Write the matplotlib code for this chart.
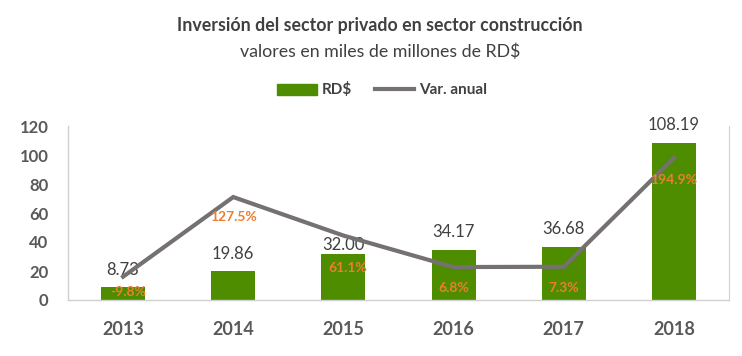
import numpy as np
import matplotlib
matplotlib.use("Agg")
import matplotlib.pyplot as plt
from matplotlib.patches import Patch
from matplotlib.lines import Line2D

plt.rcParams['font.family'] = ['Lato', 'DejaVu Sans']

# datos
anios = ['2013', '2014', '2015', '2016', '2017', '2018']
inversion = [8.73, 19.86, 32.00, 34.17, 36.68, 108.19]
var_anual = [-9.8, 127.5, 61.1, 6.8, 7.3, 194.9]
etiquetas_inv = ['8.73', '19.86', '32.00', '34.17', '36.68', '108.19']
etiquetas_var = ['-9.8%', '127.5%', '61.1%', '6.8%', '7.3%', '194.9%']

verde = '#4E8C00'
gris = '#767171'
naranja = '#ED7D31'
texto = '#595959'

W, H = 742, 356
fig = plt.figure(figsize=(W / 100, H / 100), dpi=100)
ax = fig.add_axes([68 / W, 56 / H, 661 / W, 174 / H])

x = np.arange(len(anios))
ax.bar(x, inversion, width=0.4, color=verde, zorder=2)
ax.set_xlim(-0.5, len(anios) - 0.5)
ax.set_ylim(0, 120)
ax.set_yticks(range(0, 121, 20))
ax.set_xticks(x)
ax.set_xticklabels(anios)
ax.tick_params(axis='both', length=0, colors=texto)
ax.tick_params(axis='y', pad=14, labelsize=12)
ax.tick_params(axis='x', pad=15, labelsize=13)
for lab in ax.get_xticklabels() + ax.get_yticklabels():
    lab.set_fontweight('bold')
for s in ['top', 'right']:
    ax.spines[s].set_visible(False)
for s in ['left', 'bottom']:
    ax.spines[s].set_color('#D0D0D0')
    ax.spines[s].set_linewidth(1)

# etiquetas de barras (px -> pt)
desf_inv = [17, 17, 9, 18, 18, 18]
for i, v in enumerate(inversion):
    ax.annotate(etiquetas_inv[i], (x[i], v), xytext=(0, desf_inv[i] * 0.72),
                textcoords='offset points', ha='center', va='center',
                fontsize=12, color='#404040', zorder=5)

# eje secundario
ax2 = ax.twinx()
ax2.set_ylim(-50, 250)
ax2.plot(x, var_anual, color=gris, lw=3, solid_joinstyle='miter', zorder=3)
ax2.set_yticks([])
for s in ['top', 'left', 'bottom']:
    ax2.spines[s].set_visible(False)
ax2.spines['right'].set_color('#D0D0D0')

desf_var = [(5, -15), (0, -20), (4, -32), (0, -21), (0, -21), (0, -22)]
for i, v in enumerate(var_anual):
    dx, dy = desf_var[i]
    ax2.annotate(etiquetas_var[i], (x[i], v), xytext=(dx * 0.72, dy * 0.72),
                 textcoords='offset points', ha='center', va='center',
                 fontsize=10, fontweight='bold', color=naranja, zorder=6)

fig.text(380 / W, 1 - 26 / H, 'Inversión del sector privado en sector construcción',
         ha='center', va='center', fontsize=12.8, fontweight='bold', color='#404040')
fig.text(380 / W, 1 - 52 / H, 'valores en miles de millones de RD$',
         ha='center', va='center', fontsize=12.8, color='#404040')

handles = [Patch(color=verde), Line2D([0], [0], color=gris, lw=3)]
leg = fig.legend(handles, ['RD$', 'Var. anual'], loc='center', bbox_to_anchor=(382 / W, 1 - 90 / H),
                 ncol=2, frameon=False, prop={'weight': 'bold', 'size': 11},
                 handlelength=2.6, handletextpad=0.3, columnspacing=1.5)
for t in leg.get_texts():
    t.set_color('#404040')

fig.savefig('out.png', dpi=100)
